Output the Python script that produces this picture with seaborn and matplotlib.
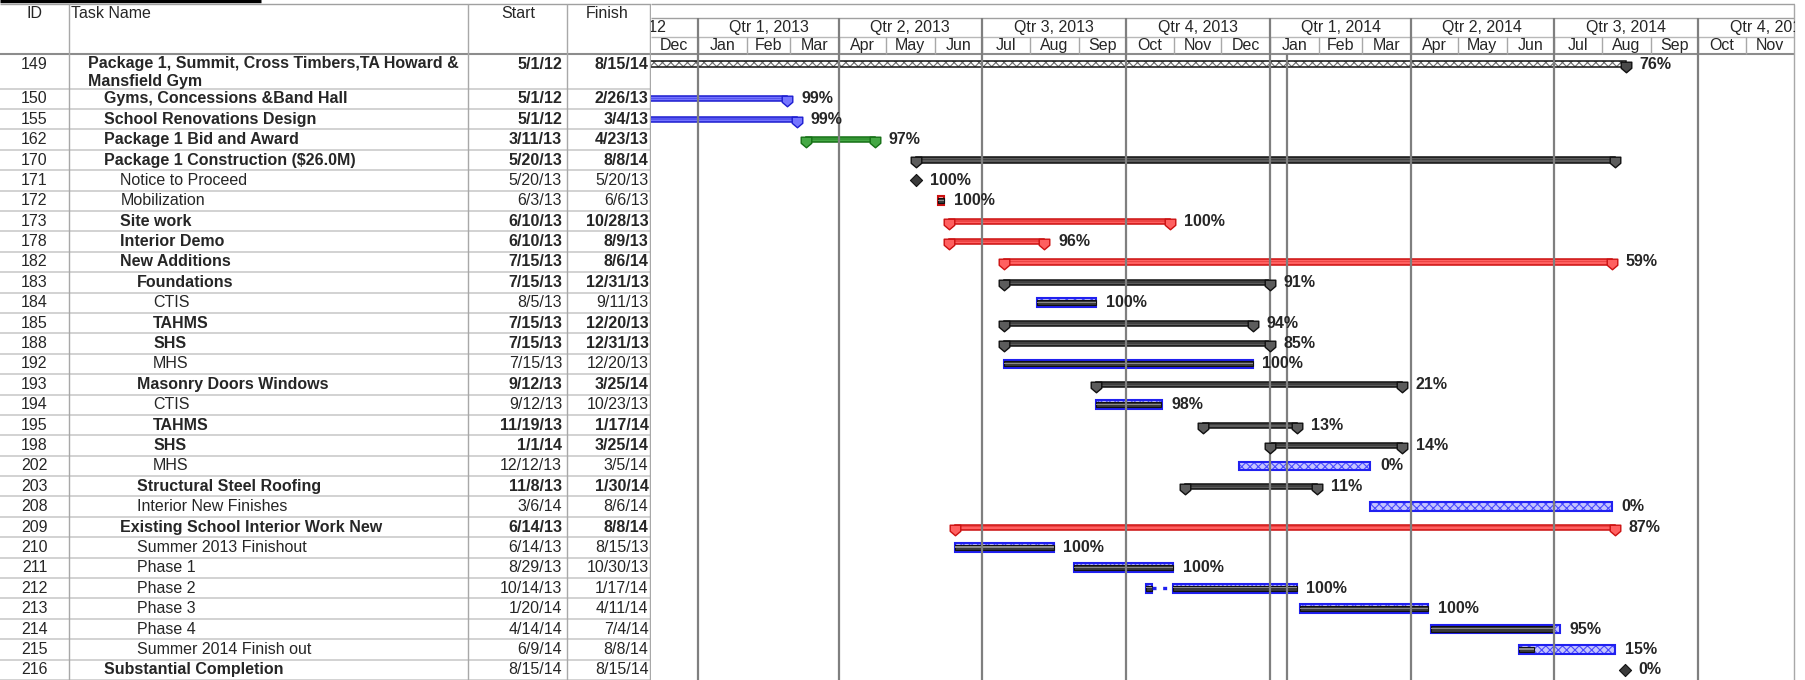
import datetime as dt
import matplotlib
matplotlib.use('Agg')
import matplotlib.pyplot as plt
import matplotlib.dates as mdates
from matplotlib.path import Path
import numpy as np
import pandas as pd
import seaborn as sns

ids = [149, 150, 155, 162, 170, 171, 172, 173, 178, 182, 183, 184, 185, 188, 192,
       193, 194, 195, 198, 202, 203, 208, 209, 210, 211, 212, 213, 214, 215, 216]
names = ['Package 1, Summit, Cross Timbers,TA Howard &\nMansfield Gym',
         'Gyms, Concessions &Band Hall', 'School Renovations Design',
         'Package 1 Bid and Award', 'Package 1 Construction ($26.0M)',
         'Notice to Proceed', 'Mobilization', 'Site work', 'Interior Demo',
         'New Additions', 'Foundations', 'CTIS', 'TAHMS', 'SHS', 'MHS',
         'Masonry Doors Windows', 'CTIS', 'TAHMS', 'SHS', 'MHS',
         'Structural Steel Roofing', 'Interior New Finishes',
         'Existing School Interior Work New', 'Summer 2013 Finishout',
         'Phase 1', 'Phase 2', 'Phase 3', 'Phase 4', 'Summer 2014 Finish out',
         'Substantial Completion']
levels = [0, 1, 1, 1, 1, 2, 2, 2, 2, 2, 3, 4, 4, 4, 4,
          3, 4, 4, 4, 4, 3, 3, 2, 3, 3, 3, 3, 3, 3, 1]
starts = ['5/1/12', '5/1/12', '5/1/12', '3/11/13', '5/20/13', '5/20/13', '6/3/13',
          '6/10/13', '6/10/13', '7/15/13', '7/15/13', '8/5/13', '7/15/13', '7/15/13',
          '7/15/13', '9/12/13', '9/12/13', '11/19/13', '1/1/14', '12/12/13', '11/8/13',
          '3/6/14', '6/14/13', '6/14/13', '8/29/13', '10/14/13', '1/20/14', '4/14/14',
          '6/9/14', '8/15/14']
finishes = ['8/15/14', '2/26/13', '3/4/13', '4/23/13', '8/8/14', '5/20/13', '6/6/13',
            '10/28/13', '8/9/13', '8/6/14', '12/31/13', '9/11/13', '12/20/13', '12/31/13',
            '12/20/13', '3/25/14', '10/23/13', '1/17/14', '3/25/14', '3/5/14', '1/30/14',
            '8/6/14', '8/8/14', '8/15/13', '10/30/13', '1/17/14', '4/11/14', '7/4/14',
            '8/8/14', '8/15/14']
complete = [76, 99, 99, 97, None, 100, 100, 100, 96, 59, 91, 100, 94, 85, 100,
            21, 98, 13, 14, 0, 11, 0, 87, 100, 100, 100, 100, 95, 15, 0]
kinds = ['project', 'sum_blue', 'sum_blue', 'sum_green', 'sum_black', 'milestone',
         'task_crit', 'sum_red', 'sum_red', 'sum_red', 'sum_black', 'task', 'sum_black',
         'sum_black', 'task', 'sum_black', 'task', 'sum_black', 'sum_black', 'task',
         'sum_black', 'task', 'sum_red', 'task', 'task', 'task', 'task', 'task', 'task',
         'milestone']
bold_names = [149, 150, 155, 162, 170, 173, 178, 182, 183, 185, 188, 193, 195, 198,
              203, 209, 216]

# task 212 is split
split_id = 212
split_pause = '10/18/13'
split_resume = '10/31/13'
status_date = '1/12/14'

sns.set_theme(style='white')
plt.rcParams['font.family'] = ['Liberation Sans', 'DejaVu Sans']
plt.rcParams['hatch.linewidth'] = 0.8
FS = 11.5


def d(s):
    return mdates.date2num(dt.datetime.strptime(s, '%m/%d/%y'))


W, H = 1805, 680
U = 20.39      # px per row
HEAD = 54      # header height px


def py(px):
    return (px - HEAD) / U


row_h = [1.7] + [1.0] * (len(ids) - 1)
tops = np.concatenate([[0], np.cumsum(row_h)[:-1]])
yc = tops + 0.5
ymax = sum(row_h)

fig = plt.figure(figsize=(W / 100, H / 100), dpi=100)
ax_t = fig.add_axes([0, 0, 651 / W, 1])
ax = fig.add_axes([651 / W, 0, 1144 / W, 1])
for a in (ax_t, ax):
    a.set_ylim(ymax, py(0))
    a.axis('off')
ax_t.set_xlim(0, 651)
x0, x1 = d('12/2/12'), d('12/2/14')
ax.set_xlim(x0, x1)

# ---- table
ax_t.plot([0, 261], [py(1.2)] * 2, color='black', lw=2.5, solid_capstyle='butt')
ax_t.hlines([py(4)], 0, 651, color='#a0a0a0', lw=1)
ax_t.hlines([0], 0, 651, color='#8c8c8c', lw=1.5)
ax_t.hlines(np.cumsum(row_h), 0, 650, color='#cfcfcf', lw=1.3)
ax_t.vlines([69, 468, 567, 650], py(4), ymax, color='#a8a8a8', lw=1)
ax_t.text(34.5, py(13), 'ID', ha='center', va='center', fontsize=FS)
ax_t.text(71, py(13), 'Task Name', ha='left', va='center', fontsize=FS)
ax_t.text(518, py(13), 'Start', ha='center', va='center', fontsize=FS)
ax_t.text(607, py(13), 'Finish', ha='center', va='center', fontsize=FS)

for i, tid in enumerate(ids):
    y = yc[i]
    date_w = 'bold' if kinds[i] in ('project', 'sum_blue', 'sum_green', 'sum_black', 'sum_red') else 'normal'
    name_w = 'bold' if tid in bold_names else 'normal'
    name_y = tops[i] + row_h[i] / 2 + 0.05 if row_h[i] > 1 else y
    ax_t.text(34.5, y, str(tid), ha='center', va='center', fontsize=FS)
    ax_t.text(87.5 + 16.4 * levels[i], name_y, names[i], ha='left', va='center',
              fontsize=FS, fontweight=name_w, linespacing=1.2)
    ax_t.text(562, y, starts[i], ha='right', va='center', fontsize=FS, fontweight=date_w)
    ax_t.text(648.5, y, finishes[i], ha='right', va='center', fontsize=FS, fontweight=date_w)

# ---- timescale header
ax.hlines([py(4), py(18)], x0, x1, color='#a0a0a0', lw=1)
ax.hlines([py(37)], x0, x1, color='#b8b8b8', lw=1)
ax.hlines([0], x0, x1, color='#8c8c8c', lw=1.5)
ax.vlines([x1 - 0.6], py(4), ymax, color='#a8a8a8', lw=1, clip_on=False)

months = pd.date_range('2012-12-01', '2014-11-01', freq='MS')
quarters = pd.date_range('2012-10-01', '2014-10-01', freq='QS')
for m in months:
    a, b = mdates.date2num(m), mdates.date2num(m + pd.offsets.MonthBegin(1))
    ax.text((a + b) / 2, py(45.5), m.strftime('%b'), ha='center', va='center', fontsize=FS)
ax.vlines([mdates.date2num(m) for m in months[1:]], py(37), 0, color='#a8a8a8', lw=1)
for q in quarters:
    a, b = mdates.date2num(q), mdates.date2num(q + pd.offsets.QuarterBegin(1, startingMonth=1))
    ax.text((a + b) / 2, py(27.5), f'Qtr {q.quarter}, {q.year}', ha='center', va='center',
            fontsize=FS, clip_on=True)
qlines = [mdates.date2num(q) for q in quarters[1:]]
ax.vlines(qlines, py(18), ymax, color='#7f7f7f', lw=1.6)
ax.vlines([d(status_date)], 0, ymax, color='#7f7f7f', lw=1.6)

# ---- bars
styles = {'sum_blue': ('#1c1cd0', '#7575ff'), 'sum_red': ('#cc1010', '#ff6060'),
          'sum_green': ('#157015', '#45a845'), 'sum_black': ('#101010', '#5c5c5c'),
          'project': ('#101010', '#4a4a4a')}
cap = Path([(-1, 1), (1, 1), (1, -0.15), (0, -1), (-1, -0.15), (-1, 1)],
           [Path.MOVETO, Path.LINETO, Path.LINETO, Path.LINETO, Path.LINETO, Path.CLOSEPOLY])
caps = []
ms_x, ms_y = [], []
SH, TH, PH = 0.25, 0.43, 0.25

for i in range(len(ids)):
    k = kinds[i]
    s, e, y = d(starts[i]), d(finishes[i]) + 1, yc[i]
    p = complete[i]
    off = 10
    if k == 'milestone':
        ms_x.append(d(finishes[i]) + 0.4)
        ms_y.append(y)
        end = d(finishes[i]) + 0.4
    elif k == 'project':
        ax.barh(y, e - s, left=s, height=SH + 0.03, color='white', edgecolor='#6a6a6a',
                hatch='xxxx', lw=0)
        ax.barh(y, e - s, left=s, height=SH + 0.03, fill=False, edgecolor='#111111', lw=1.1)
        caps.append((e, y + 0.12, k))
        end = e
    elif k.startswith('sum'):
        edge, face = styles[k]
        ax.barh(y, e - s, left=s, height=SH, color=face, edgecolor=edge, lw=1.1)
        ax.barh(y - 0.02, e - s, left=s, height=SH * 0.3, color=edge, lw=0, alpha=0.35)
        if s > x0:
            caps.append((s, y + 0.12, k))
        caps.append((e, y + 0.12, k))
        end = e
    else:
        edge = '#cc1010' if k == 'task_crit' else '#2020f0'
        pieces = [(s, e)]
        if ids[i] == split_id:
            pieces = [(s, d(split_pause)), (d(split_resume), e)]
            ax.plot([d(split_pause), d(split_resume)], [y, y], color='#2020f0', lw=2.4,
                    ls=(0, (1.2, 2.0)))
        for a, b in pieces:
            if k == 'task':
                ax.barh(y, b - a, left=a, height=TH, color='#c4c4ff', edgecolor='#4a4aff',
                        hatch='xxxx', lw=0)
            else:
                ax.barh(y, b - a, left=a, height=TH, color='#ffb0b0', lw=0)
            ax.barh(y, b - a, left=a, height=TH, fill=False, edgecolor=edge, lw=1.5)
        done = (e - s) * p / 100
        if done > 0:
            for a, b in pieces:
                w = min(b, s + done) - a
                if w > 0:
                    ax.barh(y, w, left=a, height=PH, color='#3a3a3a', edgecolor='#101010', lw=0.8)
                    ax.barh(y - 0.02, w, left=a, height=PH * 0.25, color='#8a8a8a', lw=0)
        end = e
        off = 7
    if p is not None:
        ax.annotate(f'{p}%', (end, y), xytext=(off, 0), textcoords='offset points',
                    ha='left', va='center', fontsize=FS, fontweight='bold')

cap_df = pd.DataFrame(caps, columns=['x', 'y', 'kind'])
for k, grp in cap_df.groupby('kind'):
    edge, face = styles[k]
    sns.scatterplot(data=grp, x='x', y='y', marker=cap, s=58, color=face, edgecolor=edge,
                    linewidth=1, ax=ax, zorder=5, legend=False)
sns.scatterplot(x=ms_x, y=ms_y, marker='D', s=38, color='#3a3a3a', edgecolor='#111111',
                linewidth=0.8, ax=ax, zorder=5, legend=False)
ax.set_xlim(x0, x1)
ax.set_ylim(ymax, py(0))
ax.axis('off')

fig.savefig('out.png', dpi=100)
